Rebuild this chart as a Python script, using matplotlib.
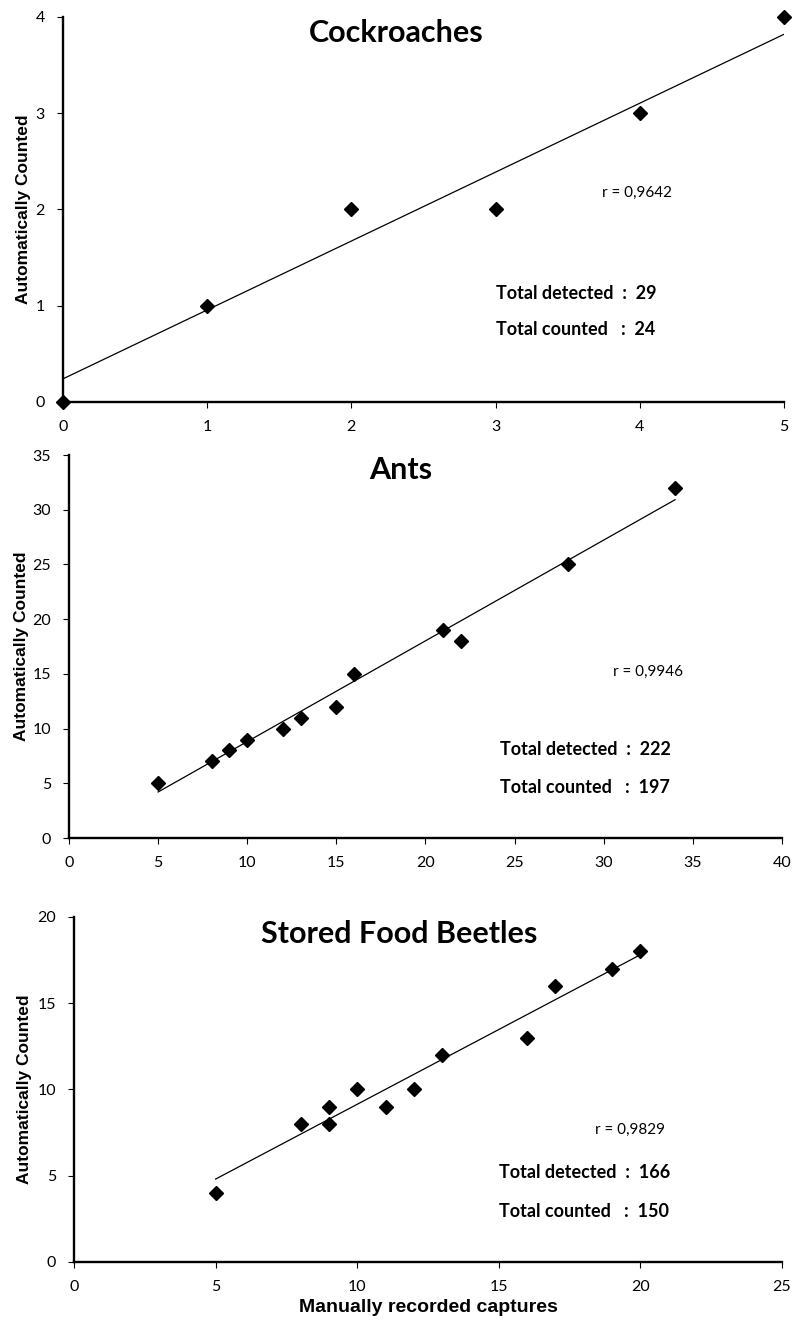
import numpy as np
import matplotlib
matplotlib.use("Agg")
import matplotlib.pyplot as plt

# Datos de cada panel
titles = ["Cockroaches", "Ants", "Stored Food Beetles"]

cock_manual = [0, 1, 2, 3, 4, 5]
cock_auto = [0, 1, 2, 2, 3, 4]

ants_manual = [5, 8, 9, 10, 12, 13, 15, 16, 21, 22, 28, 34]
ants_auto = [5, 7, 8, 9, 10, 11, 12, 15, 19, 18, 25, 32]

beet_manual = [5, 8, 9, 9, 10, 11, 12, 13, 16, 17, 19, 20]
beet_auto = [4, 8, 9, 8, 10, 9, 10, 12, 13, 16, 17, 18]

# recta de tendencia (pendiente, ordenada) tal como aparece en la figura
trends = [(0.716, 0.24), (0.921, -0.4), (0.867, 0.47)]
r_labels = ["r = 0,9642", "r = 0,9946", "r = 0,9829"]
detected = [29, 222, 166]
counted = [24, 197, 150]

xlims = [(0, 5), (0, 40), (0, 25)]
ylims = [(0, 4), (0, 35), (0, 20)]
xticks = [range(0, 6), range(0, 41, 5), range(0, 26, 5)]
yticks = [range(0, 5), range(0, 36, 5), range(0, 21, 5)]

# posiciones de textos en coordenadas de datos
title_pos = [(2.31, 3.83), (18.6, 33.6), (11.5, 19.0)]
r_pos = [(3.74, 2.17), (30.5, 15.2), (18.4, 7.65)]
tot_pos = [(3.0, 1.13, 0.75), (24.2, 8.1, 4.6), (15.0, 5.2, 2.9)]

xs = [cock_manual, ants_manual, beet_manual]
ys = [cock_auto, ants_auto, beet_auto]

rects = [
    [0.0794, 0.6971, 0.9092, 0.2901],
    [0.0870, 0.3685, 0.8991, 0.2886],
    [0.0933, 0.0490, 0.8928, 0.2600],
]
ylab_x = [24, 22, 25]

fig = plt.figure(figsize=(7.93, 13.27), dpi=100)
tick_font = "Lato"

for i in range(3):
    ax = fig.add_axes(rects[i])
    x = np.array(xs[i])
    y = np.array(ys[i])
    ax.plot(x, y, linestyle="none", marker="D", markersize=7, color="black",
            clip_on=False, zorder=3)
    m, b = trends[i]
    xl = np.array([x.min(), x.max()])
    ax.plot(xl, m * xl + b, color="black", linewidth=0.9)

    ax.set_xlim(*xlims[i])
    ax.set_ylim(*ylims[i])
    ax.set_xticks(list(xticks[i]))
    ax.set_yticks(list(yticks[i]))
    for s in ["top", "right"]:
        ax.spines[s].set_visible(False)
    for s in ["left", "bottom"]:
        ax.spines[s].set_linewidth(1.7)
    ax.tick_params(axis="both", direction="out", length=4, width=0.8,
                   labelsize=11.5)
    ax.tick_params(axis="x", pad=9)
    ax.tick_params(axis="y", pad=9)
    for lab in ax.get_xticklabels() + ax.get_yticklabels():
        lab.set_family(tick_font)

    ax.text(*title_pos[i], titles[i], ha="center", va="center",
            fontsize=22, fontweight="bold", family="Lato")
    ax.text(*r_pos[i], r_labels[i], ha="left", va="center",
            fontsize=11, family="Lato")
    tx, ty1, ty2 = tot_pos[i]
    ax.text(tx, ty1, f"Total detected  :  {detected[i]}", ha="left",
            va="center", fontsize=13, fontweight="bold", family="Lato")
    ax.text(tx, ty2, f"Total counted   :  {counted[i]}", ha="left",
            va="center", fontsize=13, fontweight="bold", family="Lato")

    ax.set_ylabel("Automatically Counted", fontsize=12.5, fontweight="bold",
                  family="Liberation Sans", va="center")
    ax.yaxis.set_label_coords(ylab_x[i] / 793, rects[i][1] + rects[i][3] / 2,
                              transform=fig.transFigure)

    if i == 2:
        ax.set_xlabel("Manually recorded captures", fontsize=14,
                      fontweight="bold", family="Liberation Sans")
        ax.xaxis.set_label_coords(rects[i][0] + rects[i][2] / 2,
                                  (1327 - 1308) / 1327,
                                  transform=fig.transFigure)
        ax.xaxis.label.set_va("center")

fig.savefig("out.png", dpi=100)
